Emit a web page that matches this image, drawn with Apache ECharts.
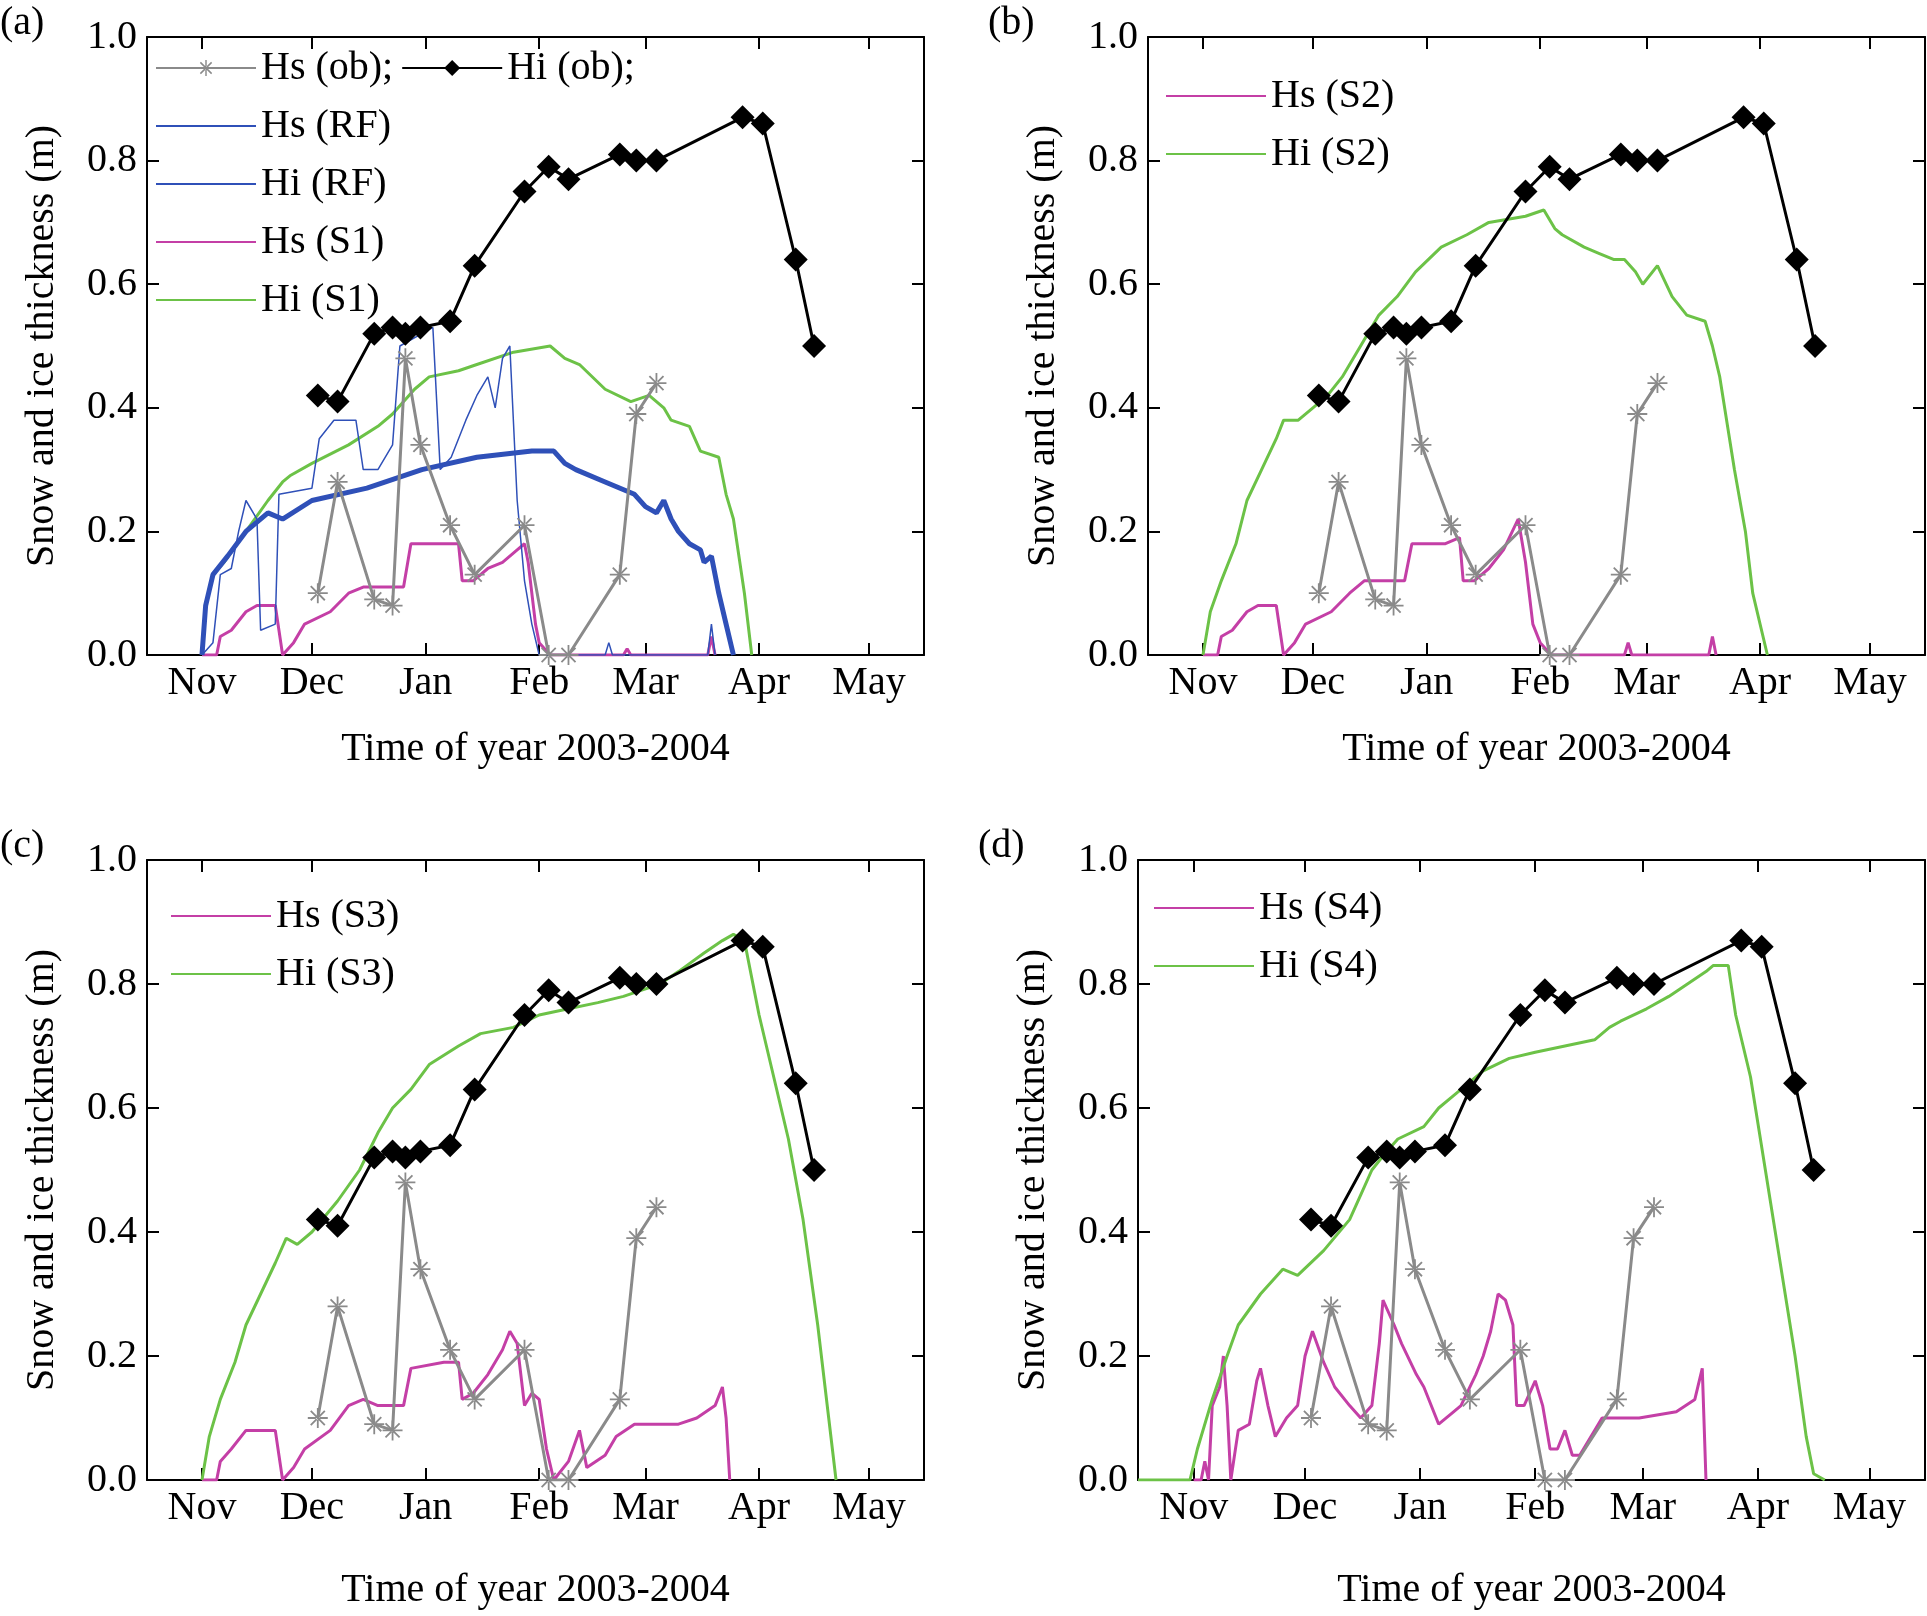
<!DOCTYPE html>
<html><head><meta charset="utf-8">
<script src="https://cdn.jsdelivr.net/npm/echarts@6/dist/echarts.min.js"></script>
<style>html,body{margin:0;background:#fff}#c{width:1927px;height:1616px}</style>
</head><body><div id="c"></div>
<script>
// x = days since 1 Nov 2003
const monthDays = [0, 30, 61, 92, 121, 152, 182];
const monthNames = ['Nov','Dec','Jan','Feb','Mar','Apr','May'];
const yTicks = [0, 0.2, 0.4, 0.6, 0.8, 1.0];

const obDays = [31.6,37,47,52,55.5,59.6,67.7,74.4,88,94.6,100,114,118.5,124,147.5,153,162,167];
const hiOb = [0.42,0.41,0.52,0.53,0.52,0.53,0.54,0.63,0.75,0.79,0.77,0.81,0.80,0.80,0.87,0.86,0.64,0.50];
const hsObDays = [31.6,37,47,52,55.5,59.6,67.7,74.4,88,94.6,100,114,118.5,124];
const hsOb = [0.10,0.28,0.09,0.08,0.48,0.34,0.21,0.13,0.21,0.0,0.0,0.13,0.39,0.44];

const hiS1 = [[0,0],[1,0.08],[3,0.13],[6,0.15],[12,0.2],[18,0.25],[22,0.28],[24,0.29],[30,0.31],[40,0.34],[48,0.37],[52,0.39],[58,0.43],[62,0.45],[70,0.46],[75,0.47],[85,0.49],[95,0.50],[99,0.48],[103,0.47],[110,0.43],[117,0.41],[122,0.42],[126,0.40],[128,0.38],[133,0.37],[136,0.33],[141,0.32],[143,0.26],[145,0.22],[148,0.1],[150,0]];
const hiRF = [[0,0],[1,0.08],[3,0.13],[7,0.16],[12,0.2],[18,0.23],[22,0.22],[30,0.25],[45,0.27],[60,0.30],[75,0.32],[90,0.33],[96,0.33],[99,0.31],[102,0.30],[110,0.28],[118,0.26],[121,0.24],[124,0.23],[126,0.25],[128,0.22],[130,0.20],[133,0.18],[136,0.17],[137,0.15],[139,0.16],[141,0.1],[143,0.05],[145,0]];
const hsRF = [[0,0],[3,0.02],[5,0.13],[8,0.14],[10,0.2],[12,0.25],[15,0.22],[16,0.04],[20,0.05],[21,0.26],[30,0.27],[32,0.35],[36,0.38],[42,0.38],[44,0.30],[48,0.30],[52,0.34],[54,0.50],[60,0.52],[63,0.53],[65,0.30],[68,0.32],[72,0.38],[75,0.42],[78,0.45],[80,0.40],[82,0.48],[84,0.50],[86,0.25],[88,0.12],[90,0.05],[92,0],[110,0],[111,0.02],[112,0],[138,0],[139,0.05],[140,0]];
const hsS1 = [[0,0],[4,0],[5,0.03],[8,0.04],[12,0.07],[15,0.08],[20,0.08],[21,0.04],[22,0],[25,0.02],[28,0.05],[35,0.07],[40,0.1],[44,0.11],[48,0.11],[55,0.11],[57,0.18],[66,0.18],[70,0.18],[71,0.12],[74,0.12],[78,0.14],[82,0.15],[86,0.17],[88,0.18],[89,0.15],[91,0.05],[92,0.02],[95,0],[115,0],[116,0.01],[117,0],[138,0],[139,0.03],[140,0]];

const hiS2 = [[0,0],[2,0.07],[5,0.12],[9,0.18],[12,0.25],[16,0.3],[20,0.35],[22,0.38],[26,0.38],[30,0.40],[34,0.42],[38,0.45],[43,0.50],[48,0.55],[53,0.58],[58,0.62],[65,0.66],[72,0.68],[78,0.70],[88,0.71],[93,0.72],[96,0.69],[98,0.68],[104,0.66],[108,0.65],[112,0.64],[115,0.64],[118,0.62],[120,0.60],[124,0.63],[128,0.58],[132,0.55],[137,0.54],[139,0.50],[141,0.45],[145,0.3],[148,0.2],[150,0.1],[154,0]];
const hsS2 = [[0,0],[4,0],[5,0.03],[8,0.04],[12,0.07],[15,0.08],[20,0.08],[21,0.04],[22,0],[25,0.02],[28,0.05],[35,0.07],[40,0.1],[44,0.12],[48,0.12],[55,0.12],[57,0.18],[66,0.18],[70,0.19],[71,0.12],[74,0.12],[78,0.14],[82,0.17],[86,0.22],[88,0.15],[90,0.05],[92,0.02],[95,0],[115,0],[116,0.02],[117,0],[138,0],[139,0.03],[140,0]];

const hiS3 = [[0,0],[2,0.07],[5,0.13],[9,0.19],[12,0.25],[16,0.3],[20,0.35],[23,0.39],[26,0.38],[30,0.40],[37,0.45],[43,0.50],[48,0.56],[52,0.60],[57,0.63],[62,0.67],[70,0.70],[76,0.72],[85,0.73],[92,0.75],[100,0.76],[108,0.77],[115,0.78],[120,0.79],[125,0.80],[130,0.82],[137,0.85],[142,0.87],[145,0.88],[148,0.87],[152,0.75],[156,0.65],[160,0.55],[164,0.42],[168,0.25],[171,0.1],[173,0]];
const hsS3 = [[0,0],[4,0],[5,0.03],[8,0.05],[12,0.08],[15,0.08],[20,0.08],[21,0.04],[22,0],[25,0.02],[28,0.05],[35,0.08],[40,0.12],[44,0.13],[48,0.12],[55,0.12],[57,0.18],[66,0.19],[70,0.19],[71,0.13],[74,0.14],[78,0.17],[82,0.21],[84,0.24],[86,0.22],[88,0.12],[90,0.14],[92,0.13],[94,0.05],[96,0],[100,0.03],[103,0.08],[105,0.02],[110,0.04],[113,0.07],[118,0.09],[130,0.09],[135,0.1],[140,0.12],[142,0.15],[143,0.1],[144,0]];

const hiS4 = [[-15,0],[-1,0],[1,0.05],[5,0.13],[9,0.2],[12,0.25],[18,0.30],[24,0.34],[28,0.33],[35,0.37],[42,0.42],[45,0.46],[48,0.50],[52,0.53],[55,0.55],[62,0.57],[66,0.60],[70,0.62],[78,0.66],[85,0.68],[92,0.69],[100,0.70],[108,0.71],[112,0.73],[115,0.74],[122,0.76],[128,0.78],[133,0.80],[138,0.82],[140,0.83],[144,0.83],[146,0.75],[150,0.65],[154,0.5],[158,0.35],[162,0.2],[165,0.07],[167,0.01],[170,0]];
const hsS4 = [[0,0],[2,0],[3,0.03],[4,0],[5,0.12],[7,0.15],[8,0.2],[9,0.12],[10,0],[12,0.08],[15,0.09],[17,0.16],[18,0.18],[20,0.12],[22,0.07],[25,0.1],[28,0.12],[30,0.2],[32,0.24],[35,0.19],[38,0.15],[42,0.12],[45,0.10],[48,0.12],[50,0.22],[51,0.29],[54,0.25],[56,0.22],[60,0.17],[62,0.15],[66,0.09],[70,0.11],[72,0.12],[76,0.17],[78,0.20],[80,0.24],[82,0.30],[84,0.29],[86,0.25],[87,0.12],[89,0.12],[92,0.16],[94,0.12],[96,0.05],[98,0.05],[100,0.08],[102,0.04],[104,0.04],[108,0.08],[110,0.10],[120,0.10],[130,0.11],[135,0.13],[137,0.18],[138,0]];

const FONT = "'Liberation Serif', 'DejaVu Serif', serif";
const FS = 40;
const MAG = '#c43fa6', GRN = '#6cc247', BLU = '#2f50b8', GRY = '#8a8a8a';
const star = 'path://M-0.9,-10 L0.9,-10 L0.9,10 L-0.9,10Z M-10,-0.9 L10,-0.9 L10,0.9 L-10,0.9Z M-7.7,-6.4 L-6.4,-7.7 L7.7,6.4 L6.4,7.7Z M7.7,-6.4 L6.4,-7.7 L-7.7,6.4 L-6.4,7.7Z';

const grids = [
  {left:147, top:37, width:777, height:618},
  {left:1148, top:37, width:777, height:618},
  {left:147, top:860, width:777, height:620},
  {left:1138, top:860, width:787, height:620}
];
const panelLabels = ['(a)','(b)','(c)','(d)'];

const xAxis = [], yAxis = [], series = [];
grids.forEach((g, i) => {
  const lineS = {show:true, onZero:false, lineStyle:{color:'#000', width:2}};
  const tick = {show:true, inside:true, length:12, lineStyle:{color:'#000', width:2}, customValues: monthDays};
  xAxis.push({type:'value', gridIndex:i, min:-15, max:197, position:'bottom',
    axisLine:lineS, axisTick:tick, splitLine:{show:false},
    axisLabel:{customValues: monthDays, formatter: v => monthNames[monthDays.indexOf(v)], fontFamily:FONT, fontSize:FS, color:'#000', margin:8},
    name:'Time of year 2003-2004', nameLocation:'middle', nameGap: i<2 ? 74 : 90,
    nameTextStyle:{fontFamily:FONT, fontSize:FS, color:'#000'}});
  xAxis.push({type:'value', gridIndex:i, min:-15, max:197, position:'top',
    axisLine:lineS, axisTick:tick, axisLabel:{show:false}, splitLine:{show:false}});
  const ytick = {show:true, inside:true, length:12, lineStyle:{color:'#000', width:2}};
  yAxis.push({type:'value', gridIndex:i, min:0, max:1, interval:0.2, position:'left',
    axisLine:lineS, axisTick:ytick, splitLine:{show:false},
    axisLabel:{formatter: v => v.toFixed(1), fontFamily:FONT, fontSize:FS, color:'#000', margin:10},
    name:'Snow and ice thickness (m)', nameLocation:'middle', nameGap:85,
    nameTextStyle:{fontFamily:FONT, fontSize:FS, color:'#000'}});
  yAxis.push({type:'value', gridIndex:i, min:0, max:1, interval:0.2, position:'right',
    axisLine:lineS, axisTick:ytick, axisLabel:{show:false}, splitLine:{show:false}});
});

function line(name, data, color, width, idx, z) {
  series.push({type:'line', name, data, xAxisIndex:idx*2, yAxisIndex:idx*2, showSymbol:false, symbol:'none',
    lineStyle:{color, width}, itemStyle:{color}, z: z||2, animation:false});
}
function obs(idx, suffix) {
  series.push({type:'line', name:'Hs (ob)'+suffix, data:hsObDays.map((d,k)=>[d,hsOb[k]]),
    xAxisIndex:idx*2, yAxisIndex:idx*2, symbol:star, symbolSize:20,
    lineStyle:{color:GRY, width:3}, itemStyle:{color:GRY}, z:5, animation:false});
  series.push({type:'line', name:'Hi (ob)'+suffix, data:obDays.map((d,k)=>[d,hiOb[k]]),
    xAxisIndex:idx*2, yAxisIndex:idx*2, symbol:'diamond', symbolSize:24,
    lineStyle:{color:'#000', width:3}, itemStyle:{color:'#000'}, z:6, animation:false});
}
line('Hs (RF)', hsRF, BLU, 1.5, 0, 3);
line('Hi (RF)', hiRF, BLU, 5, 0, 3);
line('Hs (S1)', hsS1, MAG, 3, 0, 2);
line('Hi (S1)', hiS1, GRN, 3, 0, 2);
obs(0, ';');
line('Hs (S2)', hsS2, MAG, 3, 1); line('Hi (S2)', hiS2, GRN, 3, 1); obs(1, ' ');
line('Hs (S3)', hsS3, MAG, 3, 2); line('Hi (S3)', hiS3, GRN, 3, 2); obs(2, '  ');
line('Hs (S4)', hsS4, MAG, 3, 3); line('Hi (S4)', hiS4, GRN, 3, 3); obs(3, '   ');

const lt = {fontFamily:FONT, fontSize:FS, color:'#000', lineHeight:42};
const noSym = {opacity:0};
const legend = [
  {data:['Hs (ob);','Hi (ob);'], left:150, top:42, orient:'horizontal', itemWidth:100, itemHeight:20, itemGap:8, textStyle:lt},
  {data:['Hs (RF)','Hi (RF)','Hs (S1)','Hi (S1)'], left:150, top:100, orient:'vertical', itemWidth:100, itemHeight:20, itemGap:16, textStyle:lt, itemStyle:noSym},
  {data:['Hs (S2)','Hi (S2)'], left:1160, top:70, orient:'vertical', itemWidth:100, itemHeight:20, itemGap:16, textStyle:lt, itemStyle:noSym},
  {data:['Hs (S3)','Hi (S3)'], left:165, top:890, orient:'vertical', itemWidth:100, itemHeight:20, itemGap:16, textStyle:lt, itemStyle:noSym},
  {data:['Hs (S4)','Hi (S4)'], left:1148, top:882, orient:'vertical', itemWidth:100, itemHeight:20, itemGap:16, textStyle:lt, itemStyle:noSym}
];
legend.forEach(l => { l.selectedMode = false; });

const graphic = grids.map((g, i) => ({type:'text', left: g.left - (i%2 ? 160 : 147), top: g.top - 34,
  style:{text:panelLabels[i], font:`${FS}px 'Liberation Serif', serif`, fill:'#000'}}));

const chart = echarts.init(document.getElementById('c'));
chart.setOption({backgroundColor:'#fff', animation:false, grid:grids, xAxis, yAxis, series, legend, graphic});
</script></body></html>
